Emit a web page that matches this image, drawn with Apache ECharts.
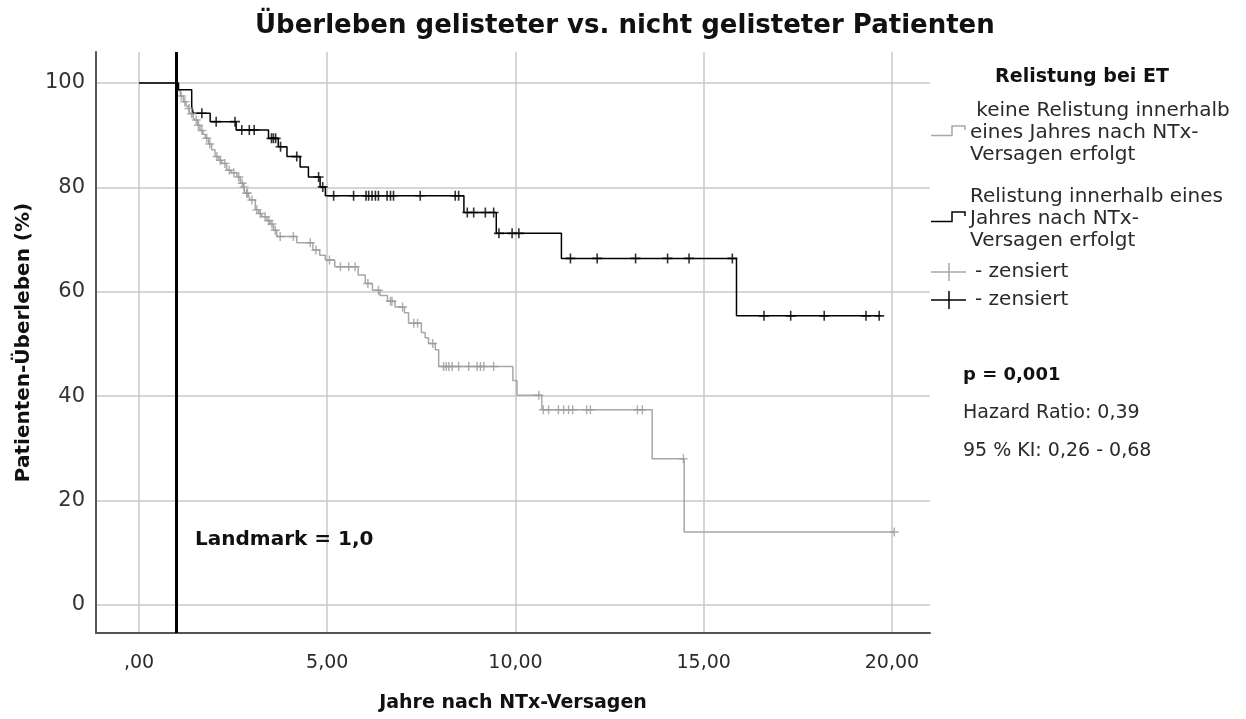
<!DOCTYPE html>
<html>
<head>
<meta charset="utf-8">
<script src="https://cdn.jsdelivr.net/npm/echarts@6/dist/echarts.min.js"></script>
<style>
html,body{margin:0;padding:0;background:#fff;}
#chart{width:1246px;height:719px;}
</style>
</head>
<body>
<div id="chart"></div>
<script>
// ---- Data ----
// Group without relisting (grey): step times (years) and survival (%)
var timesGrey = [0, 1.03, 1.10, 1.18, 1.25, 1.31, 1.36, 1.44, 1.49, 1.56, 1.62, 1.70, 1.76, 1.85, 1.93, 2.02, 2.12, 2.20, 2.33, 2.45, 2.60, 2.69, 2.77, 2.82, 2.91, 2.95, 3.09, 3.18, 3.26, 3.40, 3.48, 3.57, 3.66, 4.19, 4.62, 4.80, 4.95, 5.20, 5.82, 6.01, 6.20, 6.40, 6.60, 6.80, 7.05, 7.16, 7.50, 7.60, 7.69, 7.87, 7.96, 9.93, 10.04, 10.70, 13.63, 14.48, 20.06];
var survGrey  = [100, 98.5, 97.5, 96.4, 95.6, 95.1, 94.1, 93.4, 92.9, 91.9, 90.9, 90.2, 89.4, 88.3, 87.2, 85.9, 85.2, 84.6, 83.3, 82.8, 82.0, 80.8, 80.1, 78.9, 78.5, 77.6, 75.7, 75.0, 74.4, 73.6, 73.0, 71.8, 70.6, 69.4, 68.0, 67.0, 66.1, 64.8, 63.2, 61.6, 60.3, 59.3, 58.2, 57.1, 56.0, 54.0, 52.2, 51.2, 50.1, 48.9, 45.7, 43.0, 40.2, 37.4, 28.0, 14.0, 14.0];
var censorGrey = [1.12, 1.22, 1.33, 1.40, 1.52, 1.58, 1.67, 1.80, 1.88, 2.07, 2.16, 2.28, 2.40, 2.52, 2.65, 2.74, 2.79, 2.86, 2.88, 3.00, 3.13, 3.22, 3.35, 3.45, 3.53, 3.62, 3.75, 4.10, 4.55, 4.70, 5.06, 5.35, 5.57, 5.74, 6.08, 6.36, 6.68, 6.72, 7.00, 7.30, 7.40, 7.80, 8.09, 8.16, 8.23, 8.32, 8.49, 8.76, 8.98, 9.07, 9.16, 9.42, 10.62, 10.74, 10.88, 11.14, 11.28, 11.41, 11.52, 11.89, 11.99, 13.24, 13.37, 14.46, 20.06];

// Group with relisting (black)
var timesBlack = [0, 1.05, 1.40, 1.44, 1.89, 2.58, 3.44, 3.70, 3.93, 4.28, 4.50, 4.81, 4.95, 8.63, 9.49, 11.22, 15.87, 19.70];
var survBlack  = [100, 98.7, 95.5, 94.2, 92.6, 91.0, 89.4, 87.8, 85.9, 83.9, 82.0, 80.1, 78.4, 75.2, 71.2, 66.4, 55.4, 55.4];
var censorBlack = [1.67, 2.05, 2.55, 2.73, 2.93, 3.06, 3.52, 3.57, 3.63, 3.76, 4.19, 4.77, 4.88, 5.17, 5.70, 6.03, 6.10, 6.19, 6.28, 6.36, 6.59, 6.68, 6.76, 7.47, 8.40, 8.49, 8.72, 8.89, 9.20, 9.42, 9.56, 9.91, 10.09, 11.46, 12.17, 13.19, 14.04, 14.61, 15.76, 16.60, 17.31, 18.20, 19.31, 19.66];

var landmark = 1.0;
var xTickValues = [0, 5, 10, 15, 20];
var xTickLabels = [',00', '5,00', '10,00', '15,00', '20,00'];
var yTickValues = [0, 20, 40, 60, 80, 100];
var yTickLabels = ['0', '20', '40', '60', '80', '100'];

var legendNames = [
  ' keine Relistung innerhalb\neines Jahres nach NTx-\nVersagen erfolgt',
  'Relistung innerhalb eines\nJahres nach NTx-\nVersagen erfolgt',
  '- zensiert',
  '- zensiert'
];

// ---- helpers ----
function stepValueAt(times, surv, t) {
  var v = surv[0];
  for (var i = 0; i < times.length; i++) { if (times[i] <= t) v = surv[i]; }
  return v;
}
function pairs(times, surv) { return times.map(function (t, i) { return [t, surv[i]]; }); }
function censorPoints(c, times, surv) { return c.map(function (t) { return [t, stepValueAt(times, surv, t)]; }); }

var PLUS = 'path://M4.2,0H5.8V4.2H10V5.8H5.8V10H4.2V5.8H0V4.2H4.2Z';
var FONT = 'DejaVu Sans';
var TXT = '#2a2a2a';

var chart = echarts.init(document.getElementById('chart'), null, {renderer: 'canvas'});

var option = {
  animation: false,
  backgroundColor: '#ffffff',
  title: {
    text: 'Überleben gelisteter vs. nicht gelisteter Patienten',
    left: 250, top: 8,
    textStyle: {fontFamily: FONT, fontWeight: 'bold', fontSize: 26, color: '#111'}
  },
  grid: {left: 96, right: 316, top: 52, bottom: 86, containLabel: false},
  xAxis: {
    type: 'value', min: -1.142, max: 21.01,
    axisLine: {show: true, onZero: false, lineStyle: {color: '#555', width: 2}},
    axisTick: {show: false, customValues: xTickValues},
    axisLabel: {
      customValues: xTickValues, margin: 21,
      fontFamily: FONT, fontSize: 19, color: TXT,
      formatter: function (v) { var i = xTickValues.indexOf(v); return i >= 0 ? xTickLabels[i] : ''; }
    },
    splitLine: {show: true, lineStyle: {color: '#c8c8c8', width: 1.5}},
    name: 'Jahre nach NTx-Versagen', nameLocation: 'middle', nameGap: 61,
    nameTextStyle: {fontFamily: FONT, fontWeight: 'bold', fontSize: 19, color: '#111'}
  },
  yAxis: {
    type: 'value', min: -5.36, max: 105.94,
    axisLine: {show: true, onZero: false, lineStyle: {color: '#555', width: 2}},
    axisTick: {show: false, customValues: yTickValues},
    axisLabel: {
      customValues: yTickValues, margin: 11,
      fontFamily: FONT, fontSize: 21, color: '#333',
      formatter: function (v) { var i = yTickValues.indexOf(v); return i >= 0 ? yTickLabels[i] : ''; }
    },
    splitLine: {show: true, lineStyle: {color: '#c8c8c8', width: 1.5}},
    name: 'Patienten-Überleben (%)', nameLocation: 'middle', nameGap: 60, nameRotate: 90,
    nameTextStyle: {fontFamily: FONT, fontWeight: 'bold', fontSize: 20, color: '#111'}
  },
  series: [
    {
      name: 'grey', type: 'line', step: 'end', showSymbol: false, z: 2,
      data: pairs(timesGrey, survGrey),
      lineStyle: {color: '#a8a8a8', width: 1.5}
    },
    {
      name: 'black', type: 'line', step: 'end', showSymbol: false, z: 3,
      data: pairs(timesBlack, survBlack),
      lineStyle: {color: '#000', width: 1.5},
      markLine: {
        silent: true, symbol: ['none', 'none'], label: {show: false},
        lineStyle: {color: '#000', width: 3, type: 'solid'},
        data: [{xAxis: landmark}]
      }
    },
    {
      name: 'greyCensor', type: 'scatter', z: 4,
      symbol: PLUS, symbolSize: 9,
      itemStyle: {color: '#9a9a9a'},
      data: censorPoints(censorGrey, timesGrey, survGrey)
    },
    {
      name: 'blackCensor', type: 'scatter', z: 5,
      symbol: PLUS, symbolSize: 10,
      itemStyle: {color: '#000'},
      data: censorPoints(censorBlack, timesBlack, survBlack)
    }
  ],
  graphic: [
    {type: 'text', left: 195, top: 530, z: 10,
      style: {text: 'Landmark = 1,0', font: 'bold 20px "DejaVu Sans"', fill: '#111'}},
    // legend
    {type: 'text', x: 1082, y: 77, z: 10,
      style: {text: 'Relistung bei ET', font: 'bold 19px "DejaVu Sans"', fill: '#111', align: 'center', verticalAlign: 'middle'}},
    {type: 'polyline', z: 10, shape: {points: [[931, 135.5], [952, 135.5], [952, 126], [965, 126], [965, 130]]},
      style: {stroke: '#a8a8a8', lineWidth: 1.5, fill: null}},
    {type: 'text', x: 970, y: 100, z: 10,
      style: {text: legendNames[0], font: '20px "DejaVu Sans"', lineHeight: 22, fill: TXT}},
    {type: 'polyline', z: 10, shape: {points: [[931, 221.5], [952, 221.5], [952, 212], [965, 212], [965, 216]]},
      style: {stroke: '#000', lineWidth: 1.5, fill: null}},
    {type: 'text', x: 970, y: 186, z: 10,
      style: {text: legendNames[1], font: '20px "DejaVu Sans"', lineHeight: 22, fill: TXT}},
    {type: 'line', z: 10, shape: {x1: 931, y1: 272, x2: 966, y2: 272}, style: {stroke: '#a8a8a8', lineWidth: 1.5}},
    {type: 'line', z: 10, shape: {x1: 949, y1: 263, x2: 949, y2: 281}, style: {stroke: '#a8a8a8', lineWidth: 1.5}},
    {type: 'text', x: 975, y: 272, z: 10,
      style: {text: legendNames[2], font: '20px "DejaVu Sans"', fill: TXT, verticalAlign: 'middle'}},
    {type: 'line', z: 10, shape: {x1: 931, y1: 300, x2: 966, y2: 300}, style: {stroke: '#000', lineWidth: 1.5}},
    {type: 'line', z: 10, shape: {x1: 949, y1: 291, x2: 949, y2: 309}, style: {stroke: '#000', lineWidth: 1.5}},
    {type: 'text', x: 975, y: 300, z: 10,
      style: {text: legendNames[3], font: '20px "DejaVu Sans"', fill: TXT, verticalAlign: 'middle'}},
    // statistics
    {type: 'text', x: 963, y: 375, z: 10,
      style: {text: 'p = 0,001', font: 'bold 18px "DejaVu Sans"', fill: '#111', verticalAlign: 'middle'}},
    {type: 'text', x: 963, y: 413, z: 10,
      style: {text: 'Hazard Ratio: 0,39', font: '19px "DejaVu Sans"', fill: TXT, verticalAlign: 'middle'}},
    {type: 'text', x: 963, y: 451, z: 10,
      style: {text: '95 % KI: 0,26 - 0,68', font: '19px "DejaVu Sans"', fill: TXT, verticalAlign: 'middle'}}
  ]
};
chart.setOption(option);
</script>
</body>
</html>
